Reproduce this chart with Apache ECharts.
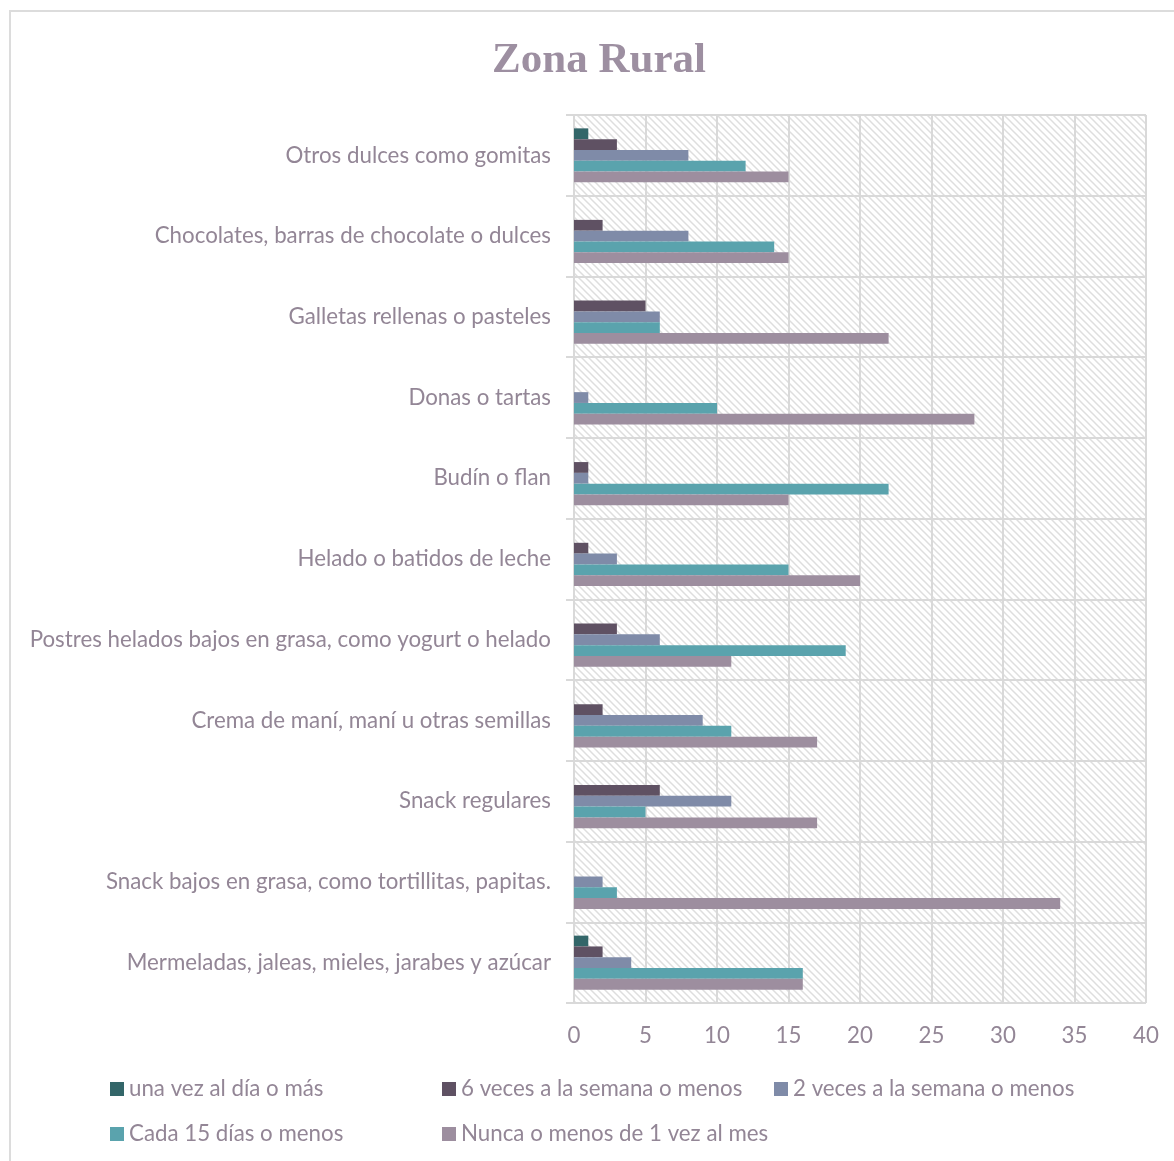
<!DOCTYPE html>
<html>
<head>
<meta charset="utf-8">
<title>Zona Rural</title>
<script src="https://cdn.jsdelivr.net/npm/echarts@6/dist/echarts.min.js"></script>
<style>
  html, body { margin: 0; padding: 0; background: #ffffff; }
  #chart { width: 1174px; height: 1161px; }
</style>
</head>
<body>
<div id="chart"></div>
<script>
// Categories listed bottom to top (category axis starts at the bottom)
const categories = [
  'Mermeladas, jaleas, mieles, jarabes y azúcar',
  'Snack bajos en grasa, como tortillitas, papitas.',
  'Snack regulares',
  'Crema de maní, maní u otras semillas',
  'Postres helados bajos en grasa, como yogurt o helado',
  'Helado o batidos de leche',
  'Budín o flan',
  'Donas o tartas',
  'Galletas rellenas o pasteles',
  'Chocolates, barras de chocolate o dulces',
  'Otros dulces como gomitas'
];

const seriesNames = [
  'una vez al día o más',
  '6 veces a la semana o menos',
  '2 veces a la semana o menos',
  'Cada 15 días o menos',
  'Nunca o menos de 1 vez al mes'
];

const unaVezAlDia      = [1, 0, 0, 0, 0, 0, 0, 0, 0, 0, 1];
const seisVecesSemana  = [2, 0, 6, 2, 3, 1, 1, 0, 5, 2, 3];
const dosVecesSemana   = [4, 2, 11, 9, 6, 3, 1, 1, 6, 8, 8];
const cada15Dias       = [16, 3, 5, 11, 19, 15, 22, 10, 6, 14, 12];
const nuncaMenosUnaVez = [16, 34, 17, 17, 11, 20, 15, 28, 22, 15, 15];

const xTicks = [0, 5, 10, 15, 20, 25, 30, 35, 40];

const seriesValues = [unaVezAlDia, seisVecesSemana, dosVecesSemana, cada15Dias, nuncaMenosUnaVez];
const seriesColors = ['#336669', '#5f5163', '#7f8ba8', '#5aa3ad', '#9d8e9f'];

const textColor = '#938696';
const gridColor = '#d9d9d9';
const labelFont = 'Lato';
const labelSize = 22.3;

// Diagonal hatch used as the plot background
function makeHatch() {
  const size = 7;
  const c = document.createElement('canvas');
  c.width = size; c.height = size;
  const ctx = c.getContext('2d');
  ctx.fillStyle = '#ffffff';
  ctx.fillRect(0, 0, size, size);
  ctx.strokeStyle = '#dedede';
  ctx.lineWidth = 1.5;
  for (const k of [-size, 0, size]) {
    ctx.beginPath();
    ctx.moveTo(k - 2, -2);
    ctx.lineTo(k + size + 2, size + 2);
    ctx.stroke();
  }
  return c;
}

const chart = echarts.init(document.getElementById('chart'), null, { renderer: 'canvas' });

const legendLeft = [110, 442, 774, 110, 442];
const legendTop = [1078, 1078, 1078, 1123, 1123];

const option = {
  animation: false,
  backgroundColor: '#ffffff',
  title: {
    text: 'Zona Rural',
    left: 594,
    top: 34,
    textAlign: 'center',
    textStyle: {
      fontFamily: 'Liberation Serif',
      fontWeight: 'bold',
      fontSize: 43,
      color: '#9d8fa1'
    }
  },
  graphic: [{
    type: 'rect',
    shape: { x: 10, y: 11, width: 1300, height: 1300 },
    style: { fill: 'none', stroke: '#dcdcdc', lineWidth: 2 },
    silent: true,
    z: -1
  }],
  legend: seriesNames.map((name, i) => ({
    data: [name],
    left: legendLeft[i],
    top: legendTop[i],
    padding: 0,
    orient: 'horizontal',
    itemWidth: 14,
    itemHeight: 14,
    icon: 'rect',
    selectedMode: false,
    textStyle: { color: textColor, fontFamily: labelFont, fontSize: labelSize }
  })),
  grid: {
    left: 574,
    right: 28,
    top: 115,
    bottom: 158,
    show: true,
    borderWidth: 0,
    backgroundColor: { image: makeHatch(), repeat: 'repeat' }
  },
  xAxis: {
    type: 'value',
    min: 0,
    max: 40,
    interval: 5,
    axisLine: { show: false },
    axisTick: { show: false },
    splitLine: { show: true, lineStyle: { color: gridColor, width: 2 } },
    axisLabel: {
      color: textColor,
      fontFamily: labelFont,
      fontSize: labelSize,
      margin: 22,
      formatter: v => (xTicks.includes(v) ? String(v) : '')
    }
  },
  yAxis: {
    type: 'category',
    data: categories,
    axisLine: { show: true, lineStyle: { color: gridColor, width: 2 } },
    axisTick: { show: true, length: 8, lineStyle: { color: gridColor, width: 2 } },
    splitLine: { show: true, lineStyle: { color: gridColor, width: 2 } },
    axisLabel: {
      color: textColor,
      fontFamily: labelFont,
      fontSize: labelSize,
      margin: 23
    }
  },
  series: seriesNames.map((name, i) => ({
    name: name,
    type: 'bar',
    data: seriesValues[i],
    barWidth: 10.8,
    barGap: '0%',
    itemStyle: { color: seriesColors[i] }
  }))
};

chart.setOption(option);
</script>
</body>
</html>
